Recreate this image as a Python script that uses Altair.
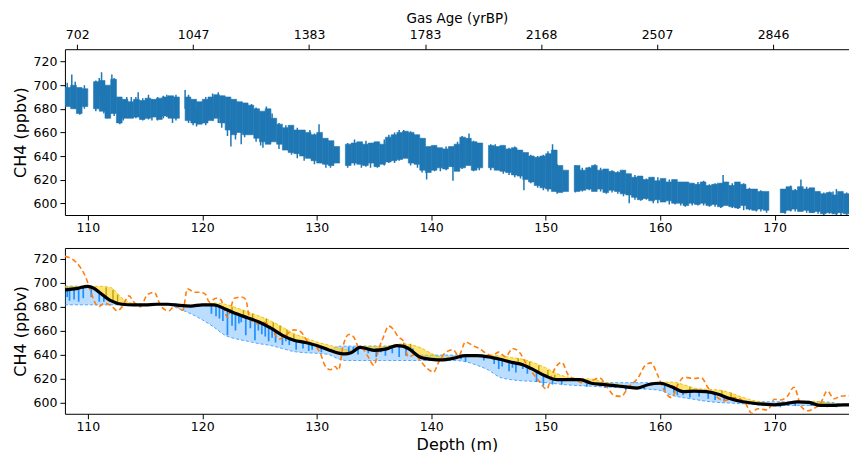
import altair as alt
import pandas as pd

# ---------------- data ----------------
depth_ticks = [110, 120, 130, 140, 150, 160, 170]
age_tick_depths = [109.07, 119.2, 129.33, 139.46, 149.6, 159.73, 169.86]
gas_age_labels = ["702", "1047", "1383", "1783", "2168", "2507", "2846"]
ch4_ticks = [600, 620, 640, 660, 680, 700, 720]

# top panel: raw CH4 record, summarised as min/max per 0.5 m depth bin (None = gap)
top_bin_width = 0.5
top_lo = [682, 680, 676, 682, None, 680, 678, 672, 676, 668,
          672, 672, 673, 671, 672, 673, 671, 674, 672, 672,
          None, 670, 668, 667, 668, 670, 672, 668, 662, 658,
          660, 658, 658, 655, 652, 650, 652, 650, 645, 643,
          642, 640, 638, 636, 634, 633, 632, 634, None, 632,
          634, 633, 632, 634, 631, 633, 635, 636, 637, 638,
          634, 633, 628, 626, 628, 630, 629, 631, 627, 630,
          632, 628, 630, None, 630, 628, 627, 626, 624, 623,
          620, 618, 615, 613, 612, 610, 609, 610, None, 610,
          611, 612, 610, 612, 609, 611, 610, 608, 607, 605,
          603, 604, 602, 603, 601, 602, 600, 600, 598, 600,
          599, 600, 598, 599, 597, 598, 597, 596, 598, 595,
          594, 595, 594, None, None, 592, 594, 595, 593, 594,
          592, 593, 591, 592, 591, 592, 591]
top_hi = [698, 700, 698, 697, None, 703, 704, 700, 705, 690,
          688, 686, 688, 687, 689, 688, 689, 690, 691, 690,
          None, 690, 688, 686, 688, 690, 692, 691, 690, 688,
          686, 685, 683, 680, 678, 680, 672, 667, 664, 666,
          662, 662, 660, 658, 660, 655, 653, 648, None, 650,
          651, 652, 650, 651, 652, 650, 656, 658, 660, 661,
          660, 658, 655, 648, 649, 647, 646, 648, 650, 656,
          655, 652, 651, None, 649, 648, 649, 646, 647, 645,
          643, 640, 639, 640, 642, 645, 632, 628, None, 632,
          628, 630, 632, 628, 629, 627, 626, 628, 625, 622,
          623, 620, 622, 619, 621, 618, 620, 618, 618, 617,
          616, 618, 615, 616, 617, 618, 615, 618, 616, 612,
          612, 610, 610, None, None, 612, 614, 611, 614, 612,
          613, 610, 608, 609, 607, 610, 608]
top_bin_start = [108.0 + top_bin_width * i for i in range(len(top_lo))]

# individual excursions of the raw record (depth, min, max)
top_spike_depth = [108.2, 108.6, 108.9, 109.3, 109.7, 110.7, 111.0, 111.2, 111.4, 111.7,
                   112.1, 112.3, 112.8, 113.1, 113.4, 113.8, 114.2, 114.4, 114.8, 115.3,
                   115.6, 116.1, 116.6, 116.9, 117.4, 117.7, 118.5, 118.8, 119.2, 119.5,
                   120.3, 120.9, 121.4, 121.7, 122.2, 122.5, 122.9, 123.4, 123.7, 124.3,
                   124.7, 125.1, 125.3, 125.6, 126.1, 126.7, 127.3, 127.8, 128.3, 128.9,
                   129.4, 129.8, 130.2, 130.8, 131.2, 131.4, 132.7, 133.3, 133.9, 134.3,
                   134.7, 135.3, 135.9, 136.3, 136.8, 137.2, 137.6, 138.2, 138.8, 139.2,
                   139.6, 140.3, 140.8, 141.3, 141.9, 142.3, 142.7, 143.3, 143.7, 144.2,
                   145.2, 145.6, 146.3, 146.8, 147.3, 147.8, 148.1, 148.7, 149.3, 149.8,
                   150.2, 150.6, 151.0, 151.3, 152.6, 153.2, 153.8, 154.3, 154.8, 155.3,
                   155.8, 156.3, 156.8, 157.3, 157.8, 158.3, 158.8, 159.4, 159.8, 160.3,
                   160.8, 161.3, 161.8, 162.2, 162.8, 163.3, 163.8, 164.3, 164.8, 165.3,
                   165.5, 166.3, 166.8, 167.3, 167.8, 168.4, 168.8, 169.3, 170.7, 170.9,
                   171.4, 171.8, 172.3, 172.8, 173.3, 173.8, 174.3, 174.8, 175.1, 175.4,
                   175.8, 176.3]
top_spike_lo = [684, 684, 680, 675, 680, 678, 690, 683, 676, 672,
                690, 674, 667, 670, 678, 674, 672, 676, 670, 671,
                670, 670, 672, 673, 668, 670, 680, 668, 666, 665,
                666, 670, 668, 664, 657, 648, 654, 650, 656, 660,
                652, 649, 647, 660, 660, 646, 648, 641, 638, 636,
                640, 633, 645, 630, 630, 632, 630, 632, 630, 631,
                630, 630, 632, 634, 634, 636, 640, 632, 630, 626,
                620, 627, 627, 628, 619, 628, 629, 640, 627, 628,
                628, 640, 625, 624, 622, 621, 611, 617, 613, 611,
                610, 630, 608, 610, 609, 610, 611, 615, 610, 608,
                609, 608, 606, 600, 603, 602, 603, 600, 600, 601,
                599, 599, 598, 597, 598, 598, 598, 597, 597, 596,
                605, 596, 595, 594, 594, 593, 593, 592, 592, 591,
                593, 593, 600, 592, 592, 591, 590, 591, 591, 590,
                590, 590]
top_spike_hi = [702, 709, 703, 695, 700, 704, 706, 711, 702, 690,
                709, 706, 680, 686, 690, 690, 690, 694, 689, 692,
                688, 690, 691, 692, 690, 692, 696, 692, 684, 680,
                690, 693, 694, 691, 688, 670, 686, 672, 684, 684,
                681, 676, 670, 682, 676, 668, 666, 665, 664, 660,
                662, 659, 667, 654, 652, 645, 651, 654, 651, 653,
                648, 652, 654, 658, 660, 662, 662, 661, 658, 652,
                640, 649, 646, 648, 640, 652, 657, 659, 653, 651,
                650, 650, 649, 647, 648, 645, 635, 641, 640, 641,
                644, 650, 633, 628, 632, 630, 631, 633, 630, 629,
                628, 627, 628, 620, 624, 623, 621, 622, 622, 619,
                620, 619, 618, 612, 617, 618, 619, 616, 617, 617,
                624, 617, 615, 617, 613, 612, 611, 608, 610, 612,
                615, 612, 620, 614, 612, 610, 609, 610, 610, 612,
                609, 609]

# bottom panel: smoothed record and envelopes
s_depth = [108, 109, 110, 110.5, 111, 112, 113, 114, 115, 116,
           117, 118, 119, 120, 121, 122, 123, 124, 125, 126,
           127, 128, 129, 130, 131, 132, 132.5, 133, 133.8, 135,
           136, 137, 137.5, 138, 139, 140, 141, 142, 143, 144,
           145, 146, 147, 148, 149, 150, 151, 152, 153, 154,
           155, 156, 157, 158, 159, 160, 161, 162, 163, 164,
           165, 166, 167, 168, 169, 170, 171, 172, 173, 174,
           175, 176, 176.5]
s_black = [694, 695, 697, 695.5, 692, 685, 682, 681.5, 681.5, 682,
           682, 681, 680.5, 681.5, 681.5, 678, 674, 670.5, 667, 662,
           656, 652, 650, 647.5, 644, 641, 640.5, 641.5, 646, 643.5,
           644.5, 647.5, 647, 645, 638, 636, 635.5, 637, 639, 639,
           638, 636, 633.5, 631.5, 627, 622, 619, 619, 619, 616,
           615, 614, 613, 612, 615, 616, 613, 609, 609.5, 609,
           607, 603.5, 601, 599.5, 598.5, 598, 599, 600.5, 600, 597.5,
           597.5, 598, 598]
s_low = [681.5, 681.5, 681.5, 681.5, 681.5, 681.5, 681.5, 681.5, 681.5, 681.5,
         681.5, 678, 674, 669, 663, 656, 653, 651, 649, 647.5,
         645, 642.5, 641.5, 641, 640, 636, 635, 635, 635, 635,
         635, 635, 635, 635, 635, 635, 635, 635, 634, 631,
         627, 621, 619, 618, 617.5, 616.5, 615.5, 614.5, 614, 613.5,
         613, 612.5, 612, 611.5, 611, 610, 606, 604, 602.5, 601,
         600, 599.5, 599, 598.5, 597.5, 597.5, 597.5, 597.5, 597.5, 597.5,
         597.5, 597.5, 597.5]
s_high = [697, 697, 697, 697, 692, 685, 682, 681.5, 681.5, 682,
          682, 681, 680.5, 681.5, 681.5, 678, 674, 670.5, 667, 662,
          656, 652, 650, 647.5, 644, 647, 647, 647, 647, 647,
          647, 647.5, 647.5, 647, 639.5, 639.5, 639.5, 639.5, 639.5, 639,
          638, 636, 633.5, 631.5, 627, 622, 619, 619, 619, 616.5,
          616.5, 616.5, 616.5, 616.5, 616.5, 616.5, 613, 609.5, 609.5, 609.5,
          607, 603.5, 601, 600.5, 600.5, 600.5, 600.5, 600.5, 600.5, 600.5,
          600, 598, 598]
s_yellow = [697, 697, 697, 697, 697, 696, 687, 682.5, 682, 682.5,
            682.5, 682, 681, 682, 683, 682, 679, 675.5, 672, 668,
            663, 657.5, 654, 650.5, 648, 645.5, 644, 643.5, 647, 647,
            647, 648.5, 649, 648.5, 646, 641, 637.5, 638, 639.5, 639.5,
            639.5, 639, 637.5, 636, 633, 629, 624, 621, 620, 619.5,
            617, 615.5, 614, 613, 615.5, 617, 617, 615, 612, 611,
            610.5, 608.5, 605, 602, 600, 598.5, 600, 601, 601, 600.5,
            599, 598.5, 598.5]

orange_depth = [108, 108.6, 109.4, 109.8, 110.1, 110.6, 110.9, 111.5, 112, 112.6,
                113, 113.6, 114, 114.6, 115.2, 115.8, 116.4, 117.1, 117.6, 118.3,
                118.7, 119.3, 119.9, 120.3, 120.6, 121.2, 121.6, 122.2, 122.8, 123.4,
                123.8, 124.1, 124.8, 125.4, 126.1, 126.7, 127.4, 128, 128.6, 129.2,
                129.9, 130.4, 130.7, 131.2, 131.6, 131.9, 132.3, 132.8, 133.2, 133.6,
                134.1, 134.5, 135, 135.4, 135.8, 136.3, 136.7, 137.1, 137.6, 138,
                138.6, 139.1, 139.7, 140.2, 140.7, 141.3, 141.9, 142.4, 143, 143.6,
                144.2, 144.8, 145.3, 145.9, 146.5, 147.1, 147.7, 148.3, 148.8, 149.4,
                150.1, 150.5, 151.1, 151.4, 152, 152.5, 153.3, 154, 154.7, 155.4,
                156, 156.6, 157.2, 158.1, 158.7, 159.2, 159.8, 160.3, 161, 161.6,
                162.1, 163, 163.6, 164.2, 164.8, 165.6, 166.5, 167.4, 168, 168.5,
                169.4, 170, 170.5, 171.1, 171.7, 172.3, 172.9, 173.4, 174, 174.6,
                175.2, 175.7, 176.5]
orange_ch4 = [722, 720, 712, 705, 697, 684, 680, 683, 681, 676.5,
              680, 689, 684, 680, 690, 692, 680, 676.5, 681, 677,
              695, 692, 692, 690, 684, 687, 686, 671, 687, 688,
              686, 672, 665.5, 667, 661, 652.8, 657, 660.6, 659, 651,
              647, 639, 631, 627.3, 630, 627, 647, 656.7, 655, 647,
              644, 638, 631, 644, 654, 663.7, 661, 655, 651, 638,
              640, 634, 628, 625.3, 634.6, 642, 644, 639, 650.5, 647.7,
              645, 641, 639, 642, 638, 645, 642, 632.3, 625.3, 618,
              611, 622, 632, 633.4, 622.5, 619.8, 616, 618, 620.4, 612.3,
              605.7, 605, 612.3, 621, 631, 633, 622.5, 611, 604, 615.8,
              621, 620, 620.5, 612, 605.7, 601.5, 604, 600, 591, 594.7,
              593.6, 602.6, 602, 605, 612.7, 597, 593, 594.7, 599, 609.5,
              603, 605, 605.7]

blue_spike_depth = [108.2, 108.4, 108.8, 109.2, 109.6, 110.3, 111.0, 111.4, 120.8, 121.2,
                    121.5, 121.8, 122.2, 122.6, 122.9, 123.2, 123.4, 123.8, 124.2, 124.6,
                    124.9, 125.2, 125.5, 125.8, 126.1, 126.4, 127.0, 127.3, 127.6, 128.2,
                    128.8, 129.3, 129.6, 130.4, 132.8, 133.2, 133.6, 134.5, 135.2, 135.6,
                    136.0, 136.6, 137.2, 137.8, 138.4, 142.6, 143.0, 144.6, 145.5, 145.9,
                    146.2, 146.8, 147.1, 147.4, 148.0, 148.4, 149.2, 149.8, 150.6, 151.4,
                    153.6, 155.2, 157.0, 158.6, 160.4, 161.2, 161.5, 162.0, 162.6, 163.4,
                    164.2, 164.8, 165.6, 170.5, 171.2, 171.8, 173.2, 174.6, 175.4]
blue_spike_top = [696, 696, 696, 696, 697, 696, 692, 690, 681.5, 681,
                  680, 679, 678, 676, 675, 674, 673, 671, 670, 669,
                  668, 666.5, 665, 663, 661.5, 660, 657, 655.5, 654, 652,
                  650, 649, 648, 646, 646.5, 646.5, 646.5, 645, 645, 645.5,
                  646, 646, 647, 647, 645, 639, 639, 639, 638, 637,
                  636, 634, 633.5, 633, 631, 630, 626, 623, 620, 618.5,
                  618, 615.5, 614, 613, 616, 613.5, 612, 610, 609, 609,
                  609, 608, 606, 598, 599, 600, 600, 598, 597.5]
blue_spike_bottom = [688, 685, 686, 684, 687, 688, 684, 684, 674, 672,
                     670, 668, 656, 664, 660, 666, 667, 656, 662, 652,
                     660, 657, 655, 651, 654, 650, 648, 651, 648, 644,
                     645, 643, 644, 642, 641, 643, 640, 641, 638, 642,
                     639, 641, 638, 639, 642, 636, 634, 635, 632, 628,
                     630, 626, 629, 625, 628, 624, 617, 614, 615, 615,
                     613, 612, 610, 611, 609, 608, 606, 606, 604, 605,
                     603, 602, 601, 596, 597, 597, 597, 596, 596]

gold_spike_depth = [111.6, 112.2, 112.6, 122.6, 123.6, 124.4, 125.6, 126.2, 126.8, 127.4,
                    128.0, 137.6, 138.2, 147.6, 148.6, 149.4, 150.2, 150.8, 162.6, 165.4,
                    166.2]
gold_spike_bottom = [688, 685, 683, 676, 672, 669, 664, 661, 658, 655,
                     652, 647, 645, 632, 628, 625, 621, 619, 609, 606,
                     603]
gold_spike_top = [696, 694, 690, 680, 677, 674, 670, 667, 664, 661,
                  657, 650, 649, 637, 634, 631, 627, 623, 613, 610,
                  608]

# ---------------- tables ----------------
top_df = pd.DataFrame({"d0": top_bin_start, "lo": top_lo, "hi": top_hi}).dropna()
top_df["d1"] = top_df["d0"] + top_bin_width
top_spk = pd.DataFrame({"d": top_spike_depth, "lo": top_spike_lo, "hi": top_spike_hi})
env = pd.DataFrame({"d": s_depth, "black": s_black, "low": s_low, "high": s_high, "yel": s_yellow})
orange = pd.DataFrame({"d": orange_depth, "v": orange_ch4})
bspk = pd.DataFrame({"d": blue_spike_depth, "top": blue_spike_top, "bot": blue_spike_bottom})
gspk = pd.DataFrame({"d": gold_spike_depth, "top": gold_spike_top, "bot": gold_spike_bottom})
age_df = pd.DataFrame({"d": age_tick_depths})
tick_df = pd.DataFrame({"d": depth_ticks})

FONT = "DejaVu Sans"
X_SCALE = alt.Scale(domain=[108, 176.5], nice=False, zero=False)
Y_TOP = alt.Scale(domain=[590, 730.5], nice=False, zero=False)
Y_BOT = alt.Scale(domain=[590.5, 729], nice=False, zero=False)

label_expr = " : ".join(
    f"abs(datum.value - {d}) < 0.01 ? '{lab}'" for d, lab in zip(age_tick_depths, gas_age_labels)
) + " : ''"

ax_bottom_top = alt.Axis(orient="bottom", values=depth_ticks, title=None, format="d")
ax_bottom_bot = alt.Axis(orient="bottom", values=depth_ticks, title="Depth (m)", format="d")
ax_age = alt.Axis(orient="top", values=age_tick_depths, labelExpr=label_expr,
                  title="Gas Age (yrBP)", titleFontSize=13.5, titlePadding=3)
ax_spine = alt.Axis(orient="top", values=depth_ticks, labels=False, ticks=False,
                    title=None, domain=True)


def yenc(field, scale):
    return alt.Y(field, type="quantitative", scale=scale,
                 axis=alt.Axis(values=ch4_ticks, title="CH4 (ppbv)", format="d"))


def xenc(field, axis=None):
    return alt.X(field, type="quantitative", scale=X_SCALE, axis=axis)


W, H = 785, 166
BLUE = "#1f77b4"

# ---------------- top panel ----------------
t_rect = alt.Chart(top_df).mark_rect(color=BLUE, stroke=BLUE, strokeWidth=0.6, clip=True).encode(
    x=xenc("d0", ax_bottom_top), x2="d1", y=yenc("lo", Y_TOP), y2="hi")
t_spk = alt.Chart(top_spk).mark_rule(color=BLUE, strokeWidth=1.5, clip=True).encode(
    x=xenc("d"), y=yenc("lo", Y_TOP), y2="hi")
t_age = alt.Chart(age_df).mark_point(opacity=0).encode(
    x=xenc("d", ax_age), y=alt.value(0))
top = alt.layer(t_rect, t_spk, t_age).resolve_axis(x="independent").properties(width=W, height=H)

# ---------------- bottom panel ----------------
b_fill = alt.Chart(env).mark_area(color="#1e90ff", opacity=0.3, interpolate="monotone", clip=True).encode(
    x=xenc("d", ax_bottom_bot), y=yenc("low", Y_BOT), y2="high")
b_low = alt.Chart(env).mark_line(color="#1e90ff", opacity=0.75, strokeWidth=1, strokeDash=[3, 2],
                                 interpolate="monotone", clip=True).encode(
    x=xenc("d"), y=yenc("low", Y_BOT))
b_high = alt.Chart(env).mark_line(color="#1e90ff", opacity=0.75, strokeWidth=1, strokeDash=[3, 2],
                                  interpolate="monotone", clip=True).encode(
    x=xenc("d"), y=yenc("high", Y_BOT))
y_fill = alt.Chart(env).mark_area(color="#ffcc00", opacity=0.55, interpolate="monotone", clip=True).encode(
    x=xenc("d"), y=yenc("black", Y_BOT), y2="yel")
y_line = alt.Chart(env).mark_line(color="#e6b800", opacity=0.8, strokeWidth=1, strokeDash=[3, 2],
                                  interpolate="monotone", clip=True).encode(
    x=xenc("d"), y=yenc("yel", Y_BOT))
g_spk = alt.Chart(gspk).mark_rule(color="#b8a000", strokeWidth=1.4, clip=True).encode(
    x=xenc("d"), y=yenc("bot", Y_BOT), y2="top")
b_spk = alt.Chart(bspk).mark_rule(color="#1e90ff", strokeWidth=1.7, clip=True).encode(
    x=xenc("d"), y=yenc("bot", Y_BOT), y2="top")
o_line = alt.Chart(orange).mark_line(color="#ff7f0e", strokeWidth=1.6, strokeDash=[5, 3],
                                     interpolate="monotone", clip=True).encode(
    x=xenc("d"), y=yenc("v", Y_BOT))
k_line = alt.Chart(env).mark_line(color="black", strokeWidth=3.2, interpolate="monotone", clip=True).encode(
    x=xenc("d"), y=yenc("black", Y_BOT))
b_spine = alt.Chart(tick_df).mark_point(opacity=0).encode(
    x=xenc("d", ax_spine), y=alt.value(0))
bottom = alt.layer(b_fill, b_low, b_high, y_fill, y_line, g_spk, b_spk, o_line, k_line, b_spine
                   ).resolve_axis(x="independent").properties(width=W, height=H)

chart = alt.vconcat(top, bottom, spacing=33, bounds="flush").resolve_scale(
    x="independent", y="independent"
).properties(
    padding={"left": 12, "top": 11, "right": 0, "bottom": 0}
).configure_view(stroke=None).configure_axis(
    labelFont=FONT, labelFontSize=12.5, labelColor="black", labelPadding=3,
    titleFont=FONT, titleFontSize=16, titleFontWeight="normal", titleColor="black",
    titlePadding=5, tickColor="black", tickSize=5, domainColor="black", grid=False
).configure_axisBottom(labelPadding=2, titlePadding=3)

chart.save("out.html", embed_options={"renderer": "svg", "actions": False})
